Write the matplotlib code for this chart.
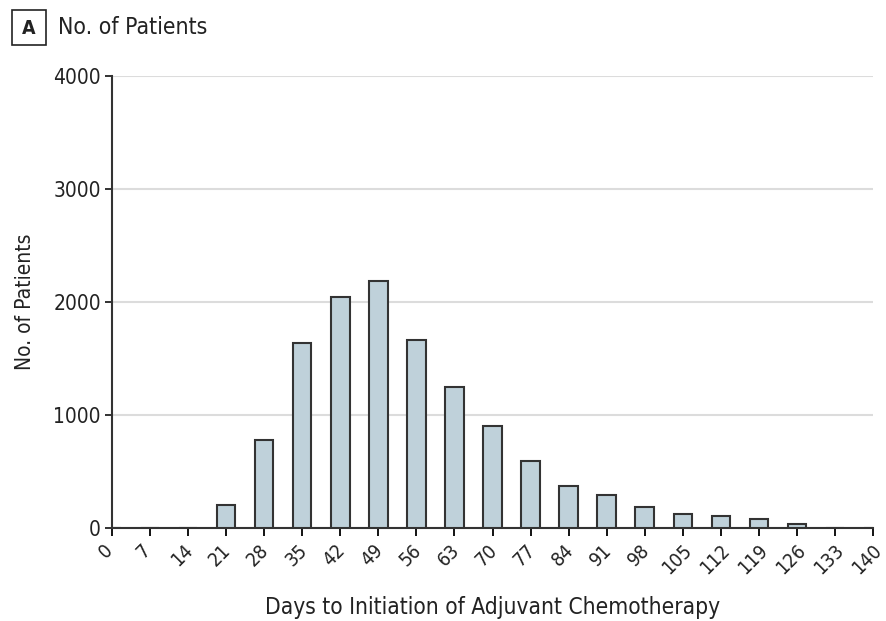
import matplotlib
matplotlib.use("Agg")
import matplotlib.pyplot as plt
import matplotlib.transforms as mtransforms
from matplotlib.patches import Rectangle

days = [0, 7, 14, 21, 28, 35, 42, 49, 56, 63, 70, 77, 84, 91, 98, 105, 112, 119, 126, 133, 140]
patients = [0, 0, 0, 205, 775, 1636, 2044, 2187, 1660, 1252, 903, 589, 368, 290, 183, 126, 107, 76, 36, 0, 0]
yticks = [0, 1000, 2000, 3000, 4000]

plt.rcParams['font.family'] = ['DejaVu Sans']
plt.rcParams['font.stretch'] = 'condensed'

fig = plt.figure(figsize=(8.86, 6.21), dpi=100)
ax = fig.add_axes([112/886, 1 - 528/621, (873-112)/886, (528-76)/621])

ax.bar(days, patients, width=3.4, color='#bfd1da', edgecolor='#333333', linewidth=1.5, zorder=3)

ax.set_xlim(0, 140)
ax.set_ylim(0, 4000)
ax.set_yticks(yticks)
ax.set_xticks(days)
ax.tick_params(axis='y', labelsize=15, colors='#222222', length=5, width=1.3, direction='out', pad=3)
ax.tick_params(axis='x', length=6, width=1.3, direction='out', pad=3)
ax.set_xticklabels([str(d) for d in days], rotation=45, ha='center', va='top',
                   fontsize=14, color='#222222')
shift = mtransforms.ScaledTranslation(-6/100, 0, fig.dpi_scale_trans)
for lbl in ax.get_xticklabels():
    lbl.set_transform(lbl.get_transform() + shift)
for s in ['top', 'right']:
    ax.spines[s].set_visible(False)
for s in ['left', 'bottom']:
    ax.spines[s].set_color('#333333')
    ax.spines[s].set_linewidth(1.5)
ax.yaxis.grid(True, color='#dcdcdc', linewidth=1.5, zorder=0)
ax.set_axisbelow(True)

ax.set_ylabel('No. of Patients', fontsize=15, color='#222222', labelpad=13)
ax.set_xlabel('Days to Initiation of Adjuvant Chemotherapy', fontsize=16.3, color='#222222', labelpad=13)

# Panel label
fig.patches.append(Rectangle((12/886, 1 - 45/621), 34/886, 35/621, transform=fig.transFigure,
                             fill=False, edgecolor='#222222', linewidth=1.2))
fig.text(29/886, 1 - 28/621, 'A', ha='center', va='center', fontsize=14, fontweight='bold', color='#222222')
fig.text(58/886, 1 - 28/621, 'No. of Patients', ha='left', va='center', fontsize=16.5, color='#222222')

fig.savefig('out.png', dpi=100)
